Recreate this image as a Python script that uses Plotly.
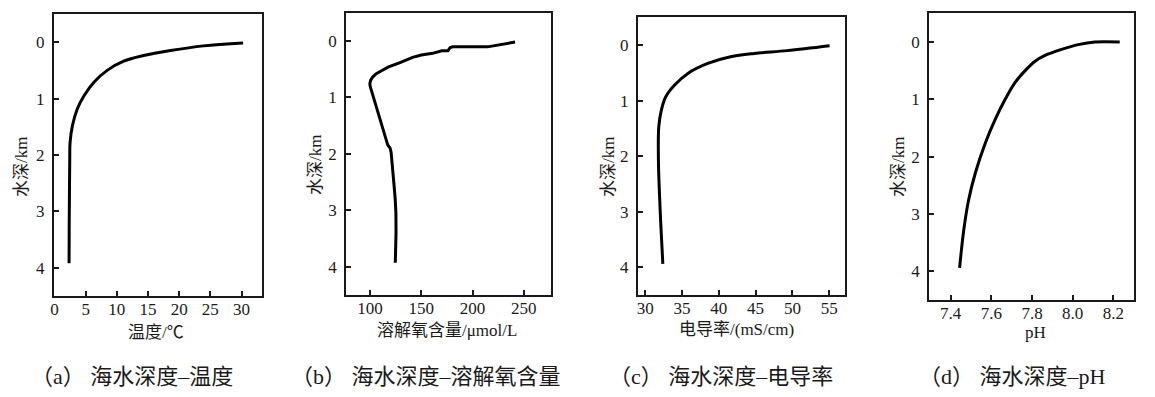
import plotly.graph_objects as go

# page body has an 8px margin; lay out in window pixels and shift
OFF = 8
W, H = 1155 - OFF, 397 - OFF

# ---- data ----
temp_c = [30.25, 23.9, 18.6, 14.3, 11.1, 8.45, 6.33, 4.74, 3.67, 2.88, 2.5, 2.45, 2.4, 2.36, 2.34]
temp_depth = [0.012, 0.065, 0.148, 0.237, 0.337, 0.50, 0.71, 0.95, 1.18, 1.48, 1.78, 2.07, 2.7, 3.3, 3.92]

oxy = [241.5, 228, 214.6, 195, 180.5, 178, 176, 170, 161, 150, 141.5, 128.6, 118, 112,
       106, 102.5, 100.5, 99.8, 100, 117.2, 119.5, 120.5, 122, 123.5, 124.5, 125.2, 125.3, 125, 124.6]
oxy_depth = [0.02, 0.06, 0.105, 0.105, 0.105, 0.12, 0.175, 0.175, 0.22, 0.25, 0.29, 0.39, 0.46, 0.52,
             0.58, 0.64, 0.70, 0.75, 0.80, 1.84, 1.90, 1.97, 2.22, 2.58, 2.8, 3.05, 3.4, 3.7, 3.93]

cond = [55.05, 49.3, 44.8, 41.6, 38.5, 35.8, 34.0, 32.8, 32.2, 31.85, 31.8, 31.95, 32.15, 32.4]
cond_depth = [0.012, 0.10, 0.15, 0.21, 0.33, 0.51, 0.72, 0.93, 1.17, 1.47, 2.07, 2.7, 3.3, 3.94]

ph = [8.231, 8.109, 8.027, 7.945, 7.864, 7.815, 7.766, 7.717, 7.668, 7.619, 7.570, 7.521, 7.488, 7.464, 7.444]
ph_depth = [0.0, 0.0, 0.047, 0.13, 0.235, 0.335, 0.50, 0.706, 1.0, 1.35, 1.765, 2.29, 2.76, 3.29, 3.94]

depth_ticks = [0, 1, 2, 3, 4]
temp_ticks = [0, 5, 10, 15, 20, 25, 30]
oxy_ticks = [100, 150, 200, 250]
cond_ticks = [30, 35, 40, 45, 50, 55]
ph_ticks = [7.4, 7.6, 7.8, 8.0, 8.2]

x_titles = ["温度/℃", "溶解氧含量/μmol/L", "电导率/(mS/cm)", "pH"]
y_title = "水深/km"
captions = ["（a） 海水深度–温度", "（b） 海水深度–溶解氧含量",
            "（c） 海水深度–电导率", "（d） 海水深度–pH"]

# ---- layout geometry (window pixels) ----
boxes = [  # left, right, top, bottom
    (50, 259, 14, 296),
    (343.3, 549.3, 12.7, 295),
    (636, 844.3, 17.3, 295),
    (928.3, 1134.3, 13.3, 300),
]
xranges = [[-0.1, 33.3], [76.6, 277], [29.0, 57.2], [7.294, 8.303]]
xticks = [temp_ticks, oxy_ticks, cond_ticks, ph_ticks]
xtitle_pos = [(153, 332), (445, 330), (735, 329), (1035, 332)]
ytitle_pos = [(18, 167), (312, 165), (607, 167), (898, 167)]
caption_pos = [(128, 376), (423, 376), (719, 376), (1012, 376)]

series = [(temp_c, temp_depth, "spline"), (oxy, oxy_depth, "linear"),
          (cond, cond_depth, "spline"), (ph, ph_depth, "spline")]

FONT = "Liberation Serif, Noto Sans CJK SC, serif"
INK = "#1a1a1a"


def px(x):
    return (x - OFF) / W


def py(y):
    return 1 - (y - OFF) / H


fig = go.Figure()
layout = dict(width=W, height=H, margin=dict(l=0, r=0, t=0, b=0),
              paper_bgcolor="white", plot_bgcolor="white", showlegend=False,
              font=dict(family=FONT, size=16, color=INK))
annotations = []

for i, ((xs, ys, shape), (l, r, t, b)) in enumerate(zip(series, boxes)):
    n = "" if i == 0 else str(i + 1)
    fig.add_trace(go.Scatter(x=xs, y=ys, mode="lines",
                             line=dict(color="black", width=3, shape=shape),
                             xaxis="x" + n, yaxis="y" + n, hoverinfo="skip"))
    axcommon = dict(showline=True, mirror=True, linewidth=2, linecolor=INK,
                    ticks="inside", ticklen=5, tickwidth=2, tickcolor=INK,
                    showgrid=False, zeroline=False,
                    tickfont=dict(family=FONT, size=17, color=INK))
    xa = dict(axcommon, domain=[px(l), px(r)], range=xranges[i],
              tickvals=xticks[i], anchor="y" + n, ticklabelstandoff=-3)
    if i == 3:
        xa["tickformat"] = ".1f"
    ya = dict(axcommon, domain=[py(b), py(t)], range=[4.5, -0.5],
              tickvals=depth_ticks, anchor="x" + n, ticklabelstandoff=4)
    layout["xaxis" + n] = xa
    layout["yaxis" + n] = ya

    annotations.append(dict(text=x_titles[i], x=px(xtitle_pos[i][0]), y=py(xtitle_pos[i][1]),
                            xref="paper", yref="paper", xanchor="center", yanchor="middle",
                            showarrow=False, font=dict(family=FONT, size=17, color=INK)))
    annotations.append(dict(text=y_title, x=px(ytitle_pos[i][0]), y=py(ytitle_pos[i][1]),
                            xref="paper", yref="paper", xanchor="center", yanchor="middle",
                            textangle=-90, showarrow=False,
                            font=dict(family=FONT, size=17, color=INK)))
    annotations.append(dict(text=captions[i], x=px(caption_pos[i][0]), y=py(caption_pos[i][1]),
                            xref="paper", yref="paper", xanchor="center", yanchor="middle",
                            showarrow=False, font=dict(family=FONT, size=22, color=INK)))

layout["annotations"] = annotations
fig.update_layout(**layout)
fig.write_html("out.html")
